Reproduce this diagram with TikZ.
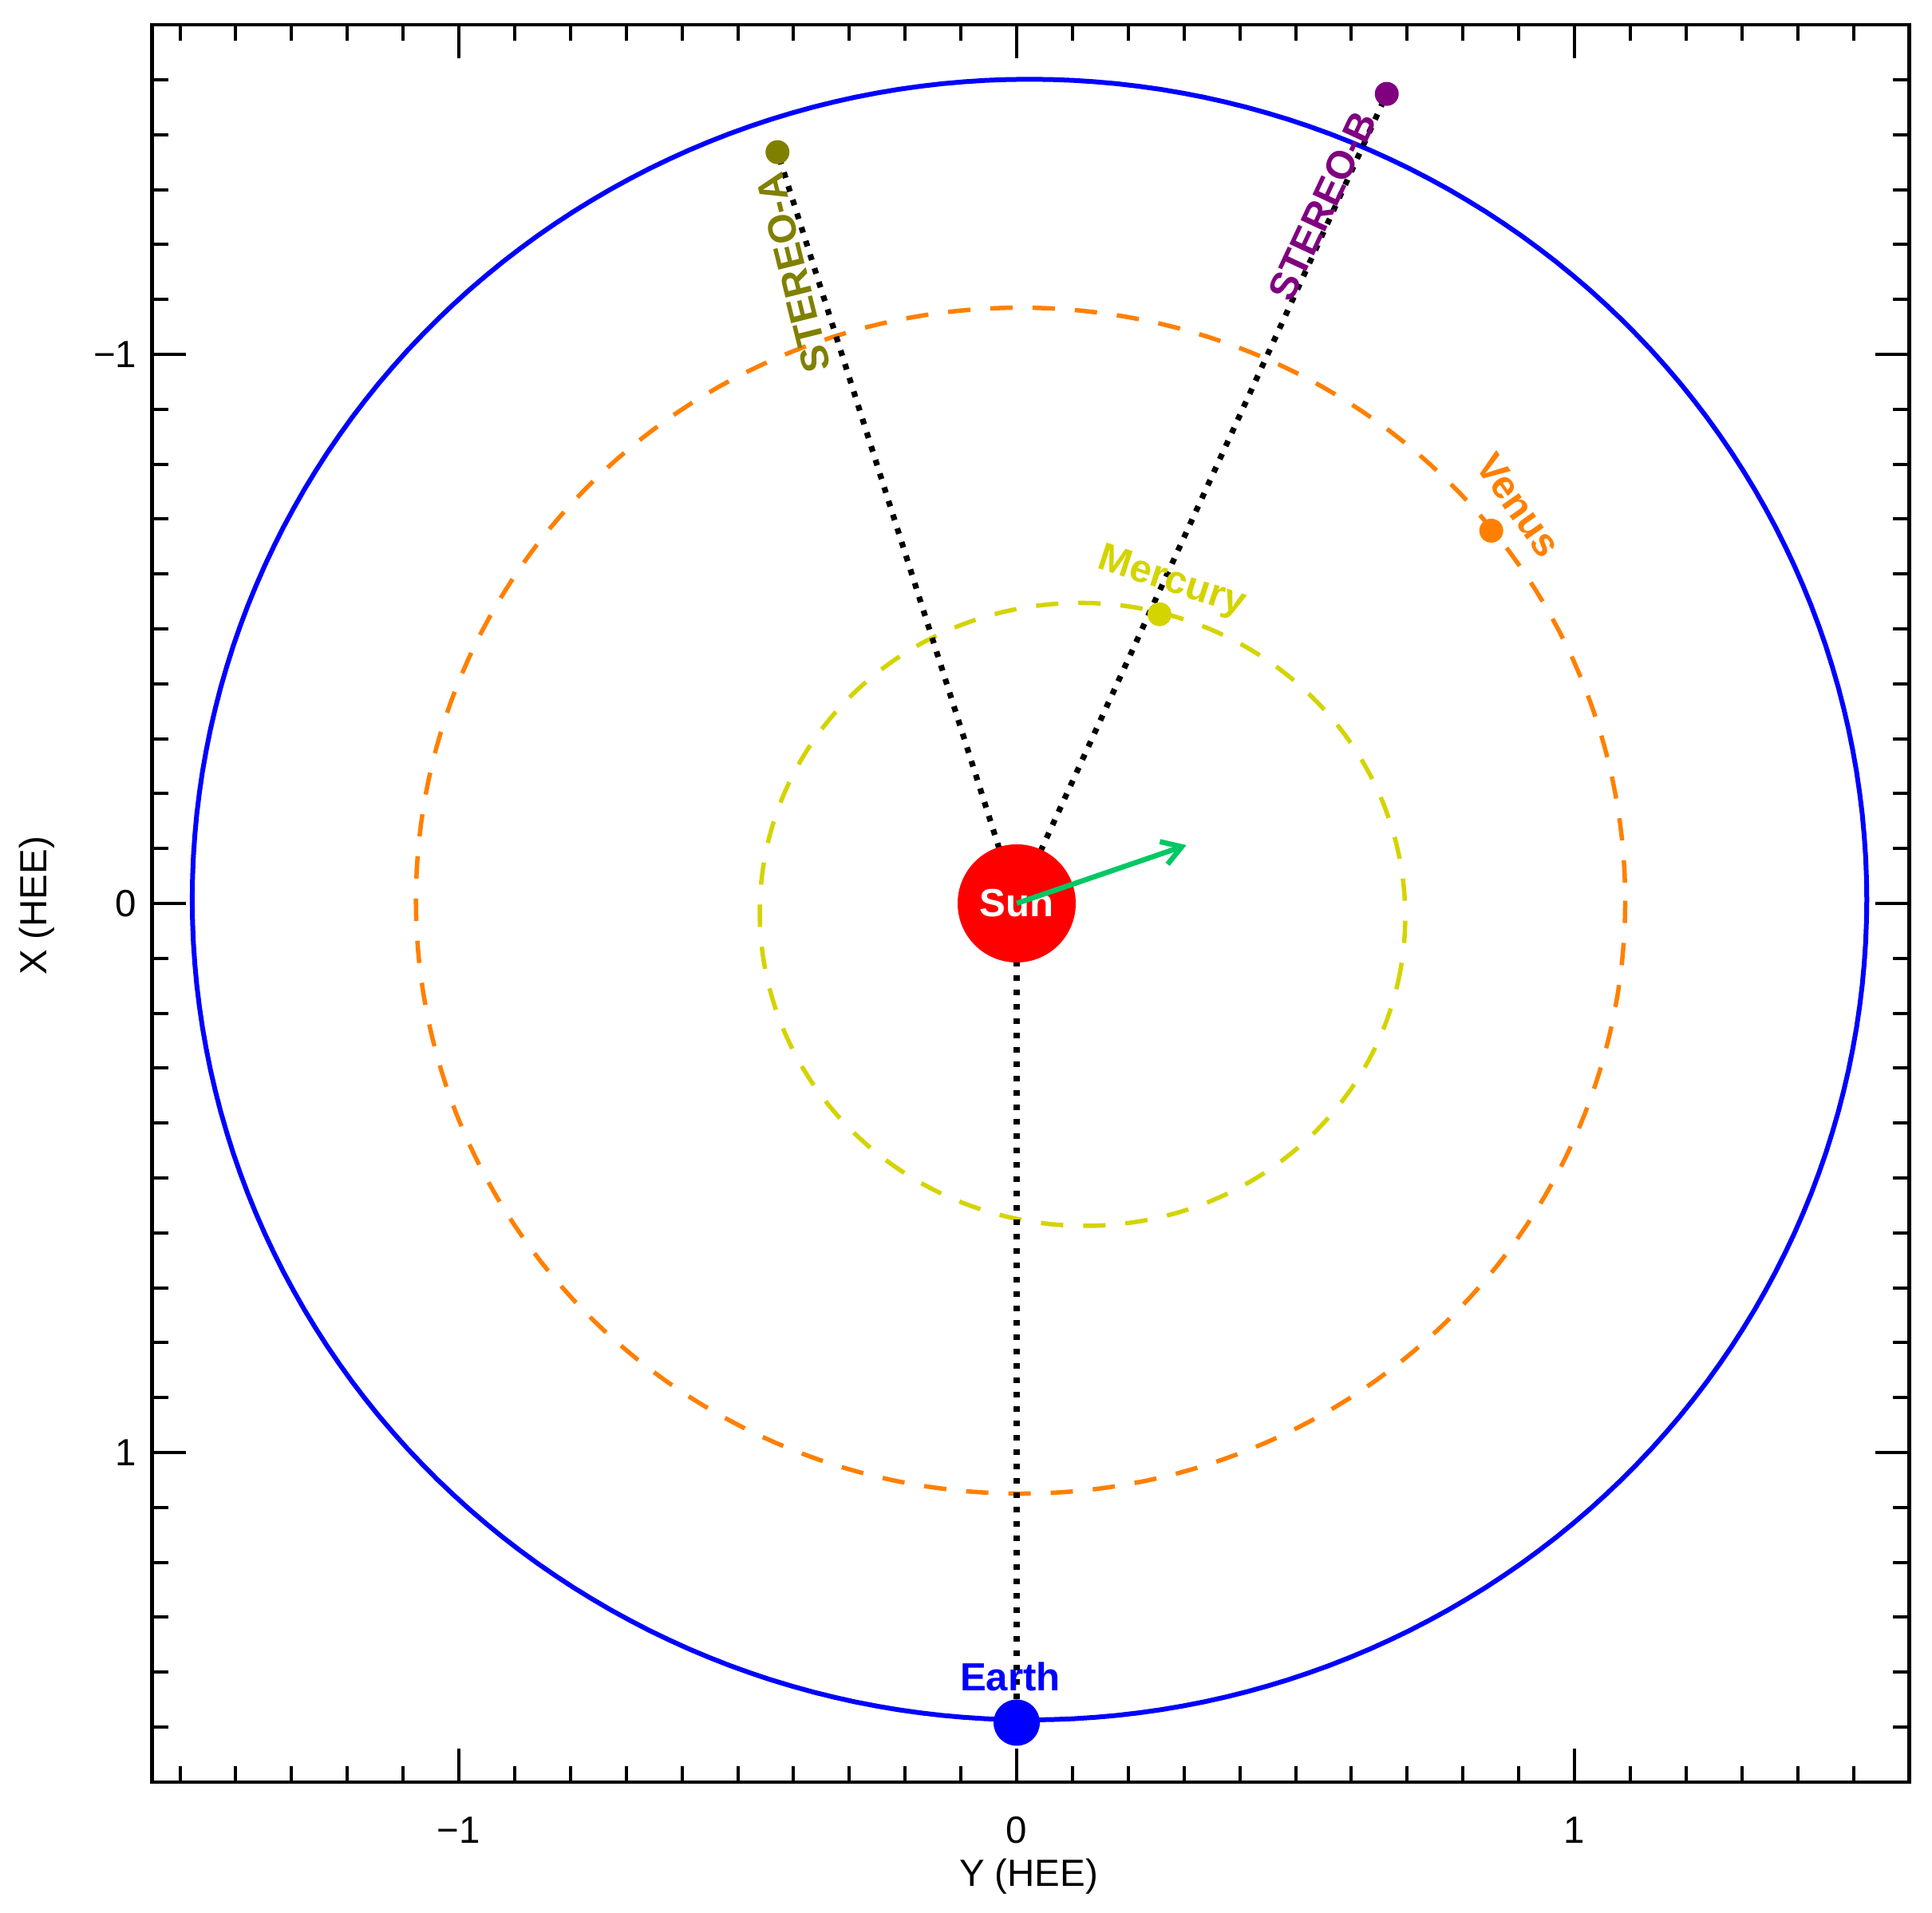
\documentclass[tikz,border=0pt]{standalone}
\usepackage{fontspec}
\setmainfont{Liberation Sans}
\usetikzlibrary{arrows.meta}
\definecolor{merc}{RGB}{212,212,0}
\definecolor{venc}{RGB}{255,128,0}
\definecolor{stac}{RGB}{128,128,0}
\definecolor{stbc}{RGB}{128,0,128}
\definecolor{arrc}{RGB}{0,200,100}
\pgfdeclarelayer{bg}
\pgfsetlayers{bg,main}
\tikzset{
 frameline/.style={line width=0.045cm},
 tickline/.style={line width=0.04cm},
 orbit/.style={line width=0.055cm, dash pattern=on 0.28cm off 0.25cm},
 dotline/.style={line width=0.072cm, dash pattern=on 0.072cm off 0.108cm},
 body/.style={circle, inner sep=0pt, minimum size=0.3cm},
 plabel/.style={font=\fontsize{14}{16}\selectfont\bfseries, inner sep=0pt},
 axlabel/.style={font=\fontsize{13.5}{16}\selectfont, inner sep=0pt},
}
\begin{document}
\begin{tikzpicture}
\useasboundingbox (0,0) rectangle (24.21,23.97);
\begin{scope}[shift={(12.74cm,12.65cm)}, x={(6.99cm,0cm)}, y={(0cm,-6.88cm)}]
% bodies
\node[body, fill=red, minimum size=1.48cm, plabel, text=white] (sun) at (0,0) {Sun};
\node[body, fill=blue, minimum size=0.58cm] (earth) at (0,1.492) {};
\node[body, fill=merc] (mercury) at (0.2561,-0.5266) {};
\node[body, fill=venc] (venus) at (0.8508,-0.6788) {};
\node[body, fill=stac] (sta) at (-0.4288,-1.3682) {};
\node[body, fill=stbc] (stb) at (0.6634,-1.4743) {};
% orbits and lines of sight underneath
\begin{pgfonlayer}{bg}
\draw[line width=0.06cm, blue] plot[domain=0:360, samples=241, variable=\t] ({0.023+1.501*cos(\t)}, {-0.007+1.494*sin(\t)}) -- cycle;
\draw[orbit, venc] plot[domain=0:360, samples=241, variable=\t] ({0.007+1.084*cos(\t)}, {-0.005+1.080*sin(\t)}) -- cycle;
\draw[orbit, merc] plot[domain=0:360, samples=241, variable=\t] ({0.118+0.579*cos(\t)*cos(9.6)-0.567*sin(\t)*sin(9.6)}, {0.020+0.579*cos(\t)*sin(9.6)+0.567*sin(\t)*cos(9.6)}) -- cycle;
\draw[dotline] (sun.center) -- (sta.center);
\draw[dotline] (sun.center) -- (stb.center);
\draw[dotline] (sun.center) -- (earth.center);
\end{pgfonlayer}
% velocity arrow
\coordinate (vtip) at (0.3043,-0.1061);
\draw[line width=0.065cm, arrc, -{Straight Barb[length=0.24cm, width=0.30cm]}] (sun.center) -- (vtip);
% labels
\node[plabel, text=blue] (earthlab) at (-0.0114,1.4084) {Earth};
\node[plabel, text=merc, rotate=-18] (merclab) at (0.2775,-0.5843) {Mercury};
\node[plabel, text=venc, rotate=-55] (venlab) at (0.8999,-0.7253) {Venus};
\node[plabel, text=stac, rotate=104] (stalab) at (-0.4006,-1.1483) {STEREO-A};
\node[plabel, text=stbc, rotate=65] (stblab) at (0.5479,-1.2703) {STEREO-B};
% frame and ticks
\draw[frameline] (-1.55,-1.6) rectangle (1.6,1.6);
\foreach \t in {-15,...,15} {
 \draw[tickline] (\t/10,1.6) -- ++(0,0.2cm);
 \draw[tickline] (\t/10,-1.6) -- ++(0,-0.2cm);
 \draw[tickline] (-1.55,\t/10) -- ++(0.2cm,0);
 \draw[tickline] (1.6,\t/10) -- ++(-0.2cm,0);
}
\foreach \t in {-1,0,1} {
 \draw[tickline] (\t,1.6) -- ++(0,0.42cm);
 \draw[tickline] (\t,-1.6) -- ++(0,-0.42cm);
 \draw[tickline] (-1.55,\t) -- ++(0.42cm,0);
 \draw[tickline] (1.6,\t) -- ++(-0.42cm,0);
}
% tick labels
\node[axlabel] (bm1) at (-1,1.6875) {−1};
\node[axlabel] (b0) at (0,1.6875) {0};
\node[axlabel] (bp1) at (1,1.6875) {1};
\node[axlabel, anchor=east] (lm1) at (-1.5765,-1) {−1};
\node[axlabel, anchor=east] (l0) at (-1.5765,0) {0};
\node[axlabel, anchor=east] (lp1) at (-1.5765,1) {1};
% axis titles
\node[axlabel] (ytitle) at (0.0215,1.7718) {Y (HEE)};
\node[axlabel, rotate=90] (xtitle) at (-1.7568,0.0044) {X (HEE)};
\end{scope}
\end{tikzpicture}
\end{document}
